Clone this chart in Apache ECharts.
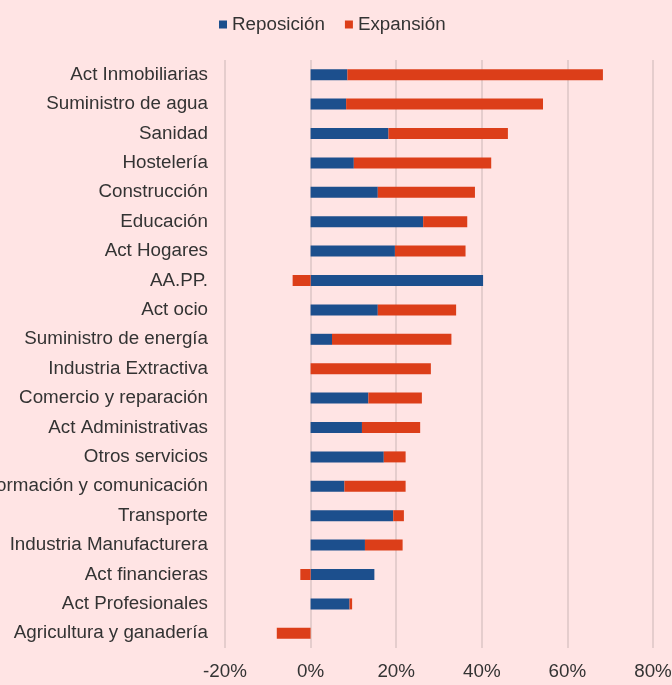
<!DOCTYPE html>
<html>
<head>
<meta charset="utf-8">
<script src="https://cdn.jsdelivr.net/npm/echarts@6/dist/echarts.min.js"></script>
<style>
  html, body { margin: 0; padding: 0; background: #ffe4e4; }
  #chart { width: 672px; height: 685px; }
</style>
</head>
<body>
<div id="chart"></div>
<script>
// sectores (de arriba abajo)
const sectores = [
  'Act Inmobiliarias', 'Suministro de agua', 'Sanidad', 'Hostelería', 'Construcción',
  'Educación', 'Act Hogares', 'AA.PP.', 'Act ocio', 'Suministro de energía',
  'Industria Extractiva', 'Comercio y reparación', 'Act Administrativas', 'Otros servicios',
  'Información y comunicación', 'Transporte', 'Industria Manufacturera', 'Act financieras',
  'Act Profesionales', 'Agricultura y ganadería'
]

// % reposición
const reposicion = [8.6, 8.3, 18.2, 10.1, 15.7, 26.3, 19.7, 40.3, 15.7, 5.0,
  0, 13.5, 12.0, 17.1, 7.9, 19.3, 12.7, 14.9, 9.1, 0]

// % expansión
const expansion = [59.7, 46.0, 27.9, 32.1, 22.7, 10.3, 16.5, -4.2, 18.3, 27.9,
  28.1, 12.5, 13.6, 5.1, 14.3, 2.5, 8.8, -2.4, 0.6, -7.9]

const ejeX = { min: -20, max: 80, interval: 20 }

const font = 'Liberation Sans, Arial, sans-serif'
const textColor = '#333333'

const chart = echarts.init(document.getElementById('chart'))

const option = {
  backgroundColor: '#ffe4e4',
  textStyle: { fontFamily: font },
  legend: {
    data: ['Reposición', 'Expansión'],
    top: 10,
    left: 214,
    itemWidth: 8,
    itemHeight: 8,
    itemGap: 20,
    icon: 'rect',
    textStyle: { fontSize: 18.8, color: textColor, fontFamily: font }
  },
  grid: {
    left: 225,
    right: 19,
    top: 60,
    bottom: 37,
    containLabel: false,
    outerBoundsMode: 'none'
  },
  xAxis: {
    type: 'value',
    min: ejeX.min,
    max: ejeX.max,
    interval: ejeX.interval,
    axisLine: { show: false },
    axisTick: { show: false },
    splitLine: { show: true, lineStyle: { color: '#dcc6c6', width: 1.5 } },
    axisLabel: {
      formatter: v => v + '%',
      fontSize: 18.8,
      color: textColor,
      margin: 14,
      fontFamily: font,
      hideOverlap: false
    }
  },
  yAxis: {
    type: 'category',
    data: sectores,
    inverse: true,
    axisLine: { show: false, onZero: false },
    axisTick: { show: false },
    axisLabel: {
      fontSize: 18.8,
      color: textColor,
      margin: 17,
      fontFamily: font
    }
  },
  series: [
    {
      name: 'Reposición',
      type: 'bar',
      stack: 'total',
      barWidth: 11,
      data: reposicion,
      itemStyle: { color: '#1c4f8d' }
    },
    {
      name: 'Expansión',
      type: 'bar',
      stack: 'total',
      barWidth: 11,
      data: expansion,
      itemStyle: { color: '#dc3e19' }
    }
  ]
}

chart.setOption(option)
</script>
</body>
</html>
